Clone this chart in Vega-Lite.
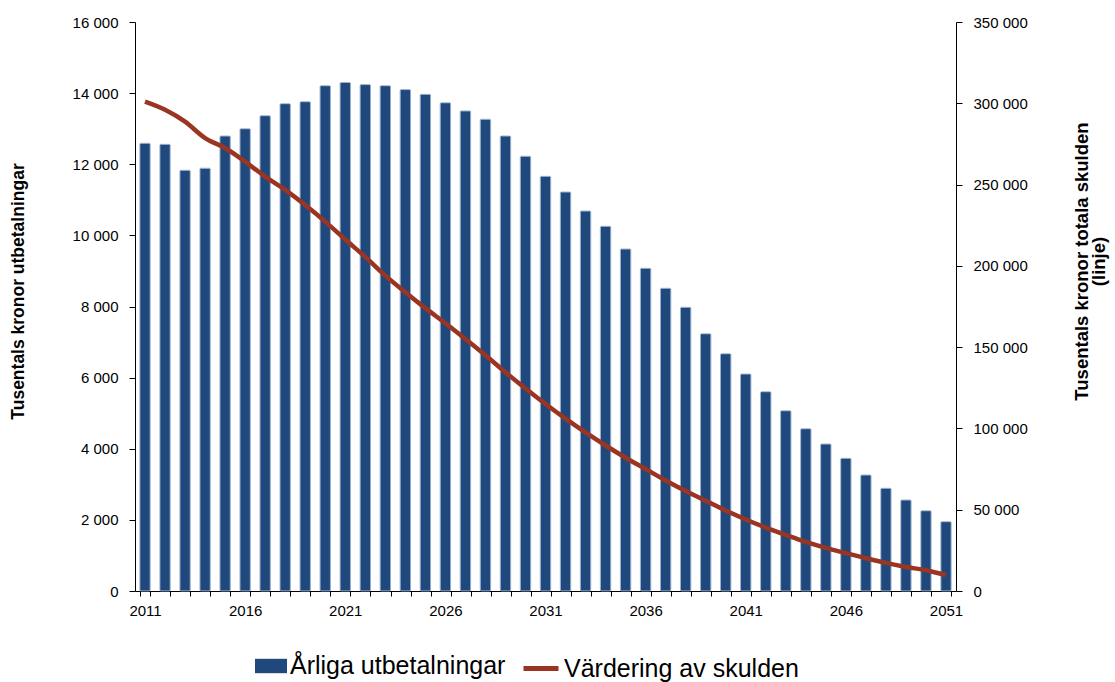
{
  "$schema": "https://vega.github.io/schema/vega-lite/v6.json",
  "width": 821,
  "height": 569,
  "autosize": {"type": "none"},
  "padding": {"left": 135, "top": 22, "right": 159, "bottom": 91},
  "background": "white",
  "config": {
    "font": "Liberation Sans",
    "view": {"stroke": null},
    "axis": {"labelFont": "Liberation Sans", "labelFontSize": 15, "labelColor": "#000000", "domainColor": "#000000", "tickColor": "#000000", "grid": false, "titleFont": "Liberation Sans", "titleFontSize": 15, "titleFontWeight": "bold", "titleColor": "#000000"}
  },
  "data": {"values": [
    {"year": 2011, "pay": 12590, "debt": 301000},
    {"year": 2012, "pay": 12560, "debt": 296000},
    {"year": 2013, "pay": 11830, "debt": 288700},
    {"year": 2014, "pay": 11890, "debt": 278600},
    {"year": 2015, "pay": 12795, "debt": 272500},
    {"year": 2016, "pay": 13000, "debt": 264100},
    {"year": 2017, "pay": 13366, "debt": 254900},
    {"year": 2018, "pay": 13704, "debt": 246700},
    {"year": 2019, "pay": 13760, "debt": 237400},
    {"year": 2020, "pay": 14210, "debt": 227200},
    {"year": 2021, "pay": 14300, "debt": 216200},
    {"year": 2022, "pay": 14240, "debt": 205500},
    {"year": 2023, "pay": 14210, "debt": 194000},
    {"year": 2024, "pay": 14100, "debt": 183800},
    {"year": 2025, "pay": 13965, "debt": 174000},
    {"year": 2026, "pay": 13730, "debt": 164700},
    {"year": 2027, "pay": 13500, "debt": 155000},
    {"year": 2028, "pay": 13265, "debt": 145000},
    {"year": 2029, "pay": 12795, "debt": 134500},
    {"year": 2030, "pay": 12225, "debt": 124500},
    {"year": 2031, "pay": 11660, "debt": 115000},
    {"year": 2032, "pay": 11220, "debt": 106000},
    {"year": 2033, "pay": 10685, "debt": 97500},
    {"year": 2034, "pay": 10255, "debt": 89500},
    {"year": 2035, "pay": 9617, "debt": 82000},
    {"year": 2036, "pay": 9074, "debt": 75000},
    {"year": 2037, "pay": 8512, "debt": 68000},
    {"year": 2038, "pay": 7977, "debt": 61500},
    {"year": 2039, "pay": 7235, "debt": 55500},
    {"year": 2040, "pay": 6673, "debt": 49500},
    {"year": 2041, "pay": 6102, "debt": 44000},
    {"year": 2042, "pay": 5605, "debt": 39000},
    {"year": 2043, "pay": 5070, "debt": 34500},
    {"year": 2044, "pay": 4564, "debt": 30200},
    {"year": 2045, "pay": 4134, "debt": 26500},
    {"year": 2046, "pay": 3731, "debt": 23300},
    {"year": 2047, "pay": 3262, "debt": 20200},
    {"year": 2048, "pay": 2888, "debt": 17300},
    {"year": 2049, "pay": 2559, "debt": 14800},
    {"year": 2050, "pay": 2258, "debt": 12800},
    {"year": 2051, "pay": 1950, "debt": 9800}
  ]},
  "encoding": {
    "x": {
      "field": "year", "type": "ordinal",
      "scale": {"paddingInner": 0.48, "paddingOuter": 0.24},
      "axis": {"title": null, "labelAngle": 0, "tickBand": "extent", "tickSize": 5, "labelPadding": 7,
        "labelExpr": "(datum.value - 2011) % 5 == 0 ? datum.label : ''"}
    }
  },
  "layer": [
    {
      "mark": {"type": "bar", "stroke": "#8ea5c4", "strokeWidth": 0.8, "cornerRadius": 1},
      "encoding": {
        "y": {"field": "pay", "type": "quantitative",
          "scale": {"domain": [0, 16000], "nice": false},
          "axis": {"title": "Tusentals kronor utbetalningar", "values": [0, 2000, 4000, 6000, 8000, 10000, 12000, 14000, 16000],
            "labelExpr": "replace(format(datum.value, ','), ',', ' ')", "tickSize": 6, "labelPadding": 11,
            "titleAngle": -90, "titleX": -117, "titleY": 269, "titleAlign": "center", "titleBaseline": "middle", "titleFontSize": 17.5}},
        "fill": {"datum": "Årliga utbetalningar", "type": "nominal",
          "scale": {"range": ["#1f497c"]},
          "legend": {"title": null, "orient": "none", "legendX": 120, "legendY": 628, "symbolType": "M-1,-0.45H1V0.45H-1Z", "symbolSize": 1024, "symbolStrokeWidth": 0, "labelFontSize": 25, "labelLimit": 400, "labelFont": "Liberation Sans", "labelColor": "#000000", "labelOffset": 3}}
      }
    },
    {
      "mark": {"type": "line", "strokeWidth": 4.5, "color": "#9a3524", "interpolate": "monotone"},
      "encoding": {
        "y": {"field": "debt", "type": "quantitative",
          "scale": {"domain": [0, 350000], "nice": false},
          "axis": {"orient": "right", "title": ["Tusentals kronor totala skulden", "(linje)"], "values": [0, 50000, 100000, 150000, 200000, 250000, 300000, 350000],
            "labelExpr": "replace(format(datum.value, ','), ',', ' ')", "tickSize": 6, "labelPadding": 11,
            "titleAngle": -90, "titleX": 125, "titleY": 239, "titleAlign": "center", "titleBaseline": "middle", "titleFontSize": 18.5, "titleLineHeight": 17}},
        "stroke": {"datum": "Värdering av skulden", "type": "nominal",
          "scale": {"range": ["#9a3524"]},
          "legend": {"title": null, "orient": "none", "legendX": 386, "legendY": 626.5, "symbolType": "stroke", "symbolSize": 1225, "symbolStrokeWidth": 5, "labelFontSize": 25, "labelLimit": 400, "labelFont": "Liberation Sans", "labelColor": "#000000", "labelOffset": 3}}
      }
    }
  ],
  "resolve": {"scale": {"y": "independent", "fill": "independent", "stroke": "independent"}}
}
